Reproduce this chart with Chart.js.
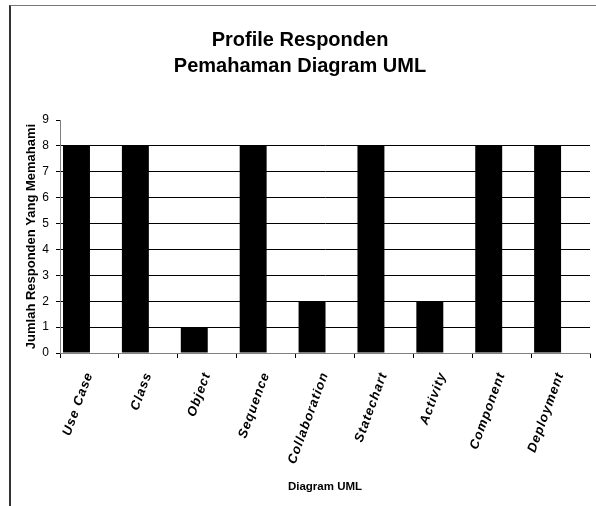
<!DOCTYPE html>
<html>
<head>
<meta charset="utf-8">
<script src="https://cdn.jsdelivr.net/npm/chart.js"></script>
<style>
  html, body { margin: 0; padding: 0; background: #fff; }
  #wrap { position: relative; width: 596px; height: 506px; overflow: hidden; }
  #frame {
    position: absolute; left: 9px; top: 5px; right: -2px; bottom: -2px;
    border-top: 1px solid #777; border-left: 2px solid #333;
  }
  #chart { position: absolute; left: 0; top: 0; }
</style>
</head>
<body>
<div id="wrap">
  <div id="frame"></div>
  <canvas id="chart" width="596" height="506"></canvas>
</div>
<script>
const diagrams = [
  "Use Case", "Class", "Object", "Sequence", "Collaboration",
  "Statechart", "Activity", "Component", "Deployment"
];
const respondents = [8, 8, 1, 8, 2, 8, 2, 8, 8];
const yMax = 9;

const titleLines = ["Profile Responden", "Pemahaman Diagram UML"];
const yTitle = "Jumlah Responden Yang Memahami";
const xTitle = "Diagram UML";

const font = "'Liberation Sans', Arial, sans-serif";

// the category labels in the original are drawn with wide letter spacing
const spacedLabels = {
  id: "spacedLabels",
  beforeDraw(chart) {
    const scale = chart.scales.x;
    if (scale._spaced) return;
    const drawLabels = scale.drawLabels.bind(scale);
    scale.drawLabels = (area) => {
      const ctx = scale.ctx;
      const prev = ctx.letterSpacing;
      ctx.letterSpacing = "1px";
      drawLabels(area);
      ctx.letterSpacing = prev;
    };
    scale._spaced = true;
  },
};

function main() {
  const ctx = document.getElementById("chart");

  new Chart(ctx, {
    type: "bar",
    data: {
      labels: diagrams,
      datasets: [
        {
          label: "Responden",
          data: respondents,
          backgroundColor: "#000",
          borderWidth: 0,
          categoryPercentage: 0.88,
          barPercentage: 1.04,
        },
        {
          // empty slot so the bars sit on the left of each category
          label: "",
          data: diagrams.map(() => null),
          backgroundColor: "transparent",
          categoryPercentage: 0.88,
          barPercentage: 1.04,
        },
      ],
    },
    plugins: [spacedLabels],
    options: {
      responsive: false,
      animation: false,
      layout: { padding: { left: 10, right: 6, top: 0, bottom: 0 } },
      plugins: {
        legend: { display: false },
        tooltip: { enabled: false },
        title: {
          display: true,
          text: titleLines,
          color: "#000",
          font: { family: font, size: 20, weight: "bold", lineHeight: 1.3 },
          padding: { top: 27, bottom: 41 },
        },
      },
      scales: {
        x: {
          grid: {
            display: true,
            drawOnChartArea: false,
            tickLength: 5,
            tickColor: "#000",
          },
          border: { display: true, color: "#808080" },
          ticks: {
            color: "#000",
            font: { family: font, size: 13, weight: "bold", style: "italic" },
            minRotation: 70,
            maxRotation: 70,
            padding: 12,
            autoSkip: false,
          },
          title: {
            display: true,
            text: xTitle,
            color: "#000",
            font: { family: font, size: 11.5, weight: "bold" },
            padding: { top: 4, bottom: 12 },
          },
          afterFit: (scale) => {
            scale.height = 153;
          },
        },
        y: {
          min: 0,
          max: yMax,
          grid: {
            color: (c) => (c.tick && c.tick.value === yMax ? "transparent" : "#000"),
            tickColor: "#000",
            tickLength: 4,
          },
          border: { display: true, color: "#808080" },
          ticks: {
            stepSize: 1,
            color: "#000",
            padding: 7,
            font: { family: font, size: 12 },
          },
          title: {
            display: true,
            text: yTitle,
            color: "#000",
            font: { family: font, size: 13, weight: "bold" },
            padding: { top: 14, bottom: 14 },
          },
          afterFit: (scale) => {
            scale.width = 50;
          },
        },
      },
    },
  });
}

document.addEventListener("DOMContentLoaded", () => main());
</script>
</body>
</html>
